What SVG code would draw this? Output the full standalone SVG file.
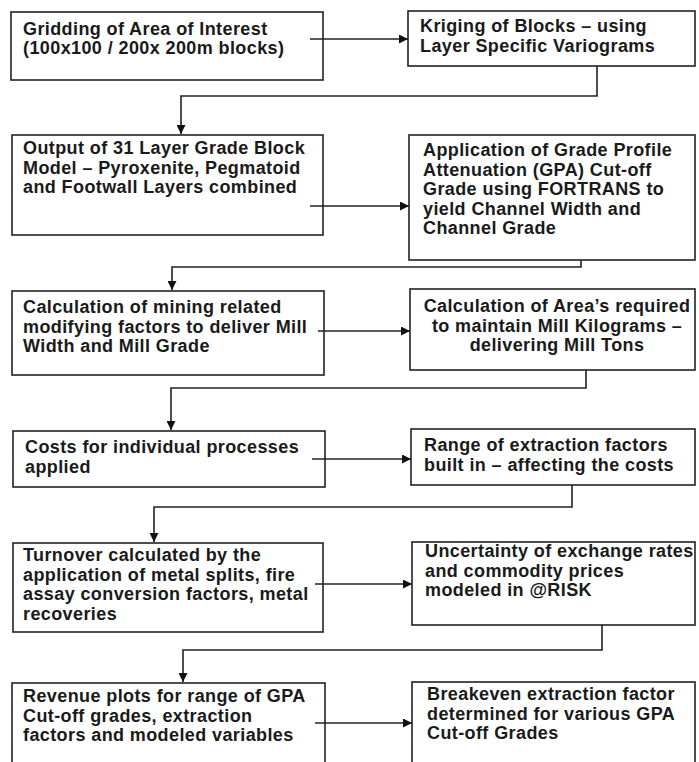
<svg xmlns="http://www.w3.org/2000/svg" width="699" height="762" viewBox="0 0 699 762">
<defs>
<marker id="ah" viewBox="0 0 10 10" refX="10" refY="5" markerWidth="9" markerHeight="9" markerUnits="userSpaceOnUse" orient="auto">
<path d="M0,0 L10,5 L0,10 z" fill="#111"/>
</marker>
<style>
rect{fill:#fff;stroke:#222;stroke-width:1.6}
text{font-family:"Liberation Sans",Arial,sans-serif;font-weight:bold;font-size:18px;fill:#1a1a1a;letter-spacing:0.4px}
.c line,.c polyline{fill:none;stroke:#222;stroke-width:1.6;marker-end:url(#ah)}
</style>
</defs>
<rect x="0" y="0" width="699" height="762" style="fill:#fff;stroke:none"/>
<g id="n1"><rect x="11" y="12" width="312" height="68"/><text x="23" y="35">Gridding of Area of Interest</text><text x="23" y="54">(100x100 / 200x 200m blocks)</text></g>
<g id="n2"><rect x="408" y="11" width="287" height="55"/><text x="420" y="32">Kriging of Blocks – using</text><text x="420" y="52">Layer Specific Variograms</text></g>
<g id="n3"><rect x="12" y="135" width="311" height="100"/><text x="23" y="154">Output of 31 Layer Grade Block</text><text x="23" y="173.5">Model – Pyroxenite, Pegmatoid</text><text x="23" y="193">and Footwall Layers combined</text></g>
<g id="n4"><rect x="409" y="135" width="286" height="125"/><text x="423" y="156">Application of Grade Profile</text><text x="423" y="175.5">Attenuation (GPA) Cut-off</text><text x="423" y="195">Grade using FORTRANS to</text><text x="423" y="214.5">yield Channel Width and</text><text x="423" y="234">Channel Grade</text></g>
<g id="n5"><rect x="12" y="291" width="312" height="84"/><text x="23" y="313">Calculation of mining related</text><text x="23" y="332.5">modifying factors to deliver Mill</text><text x="23" y="352">Width and Mill Grade</text></g>
<g id="n6"><rect x="410" y="289" width="285" height="81"/><text x="557" y="312" text-anchor="middle">Calculation of Area’s required</text><text x="557" y="331.5" text-anchor="middle">to maintain Mill Kilograms –</text><text x="557" y="351" text-anchor="middle">delivering Mill Tons</text></g>
<g id="n7"><rect x="13" y="431" width="312" height="56"/><text x="25" y="453">Costs for individual processes</text><text x="25" y="473">applied</text></g>
<g id="n8"><rect x="411" y="429" width="284" height="56"/><text x="424" y="451">Range of extraction factors</text><text x="424" y="471">built in – affecting the costs</text></g>
<g id="n9"><rect x="13" y="543" width="310" height="89"/><text x="23" y="561">Turnover calculated by the</text><text x="23" y="580.5">application of metal splits, fire</text><text x="23" y="600">assay conversion factors, metal</text><text x="23" y="619.5">recoveries</text></g>
<g id="n10"><rect x="412" y="542" width="283" height="83"/><text x="425" y="557">Uncertainty of exchange rates</text><text x="425" y="576.5">and commodity prices</text><text x="425" y="596">modeled in @RISK</text></g>
<g id="n11"><rect x="12" y="683" width="313" height="100"/><text x="23" y="702">Revenue plots for range of GPA</text><text x="23" y="721.5">Cut-off grades, extraction</text><text x="23" y="741">factors and modeled variables</text></g>
<g id="n12"><rect x="412" y="682" width="283" height="100"/><text x="427" y="700">Breakeven extraction factor</text><text x="427" y="719.5">determined for various GPA</text><text x="427" y="739">Cut-off Grades</text></g>
<g class="c" id="connectors">
<line x1="310" y1="39" x2="408" y2="39"/>
<polyline points="597,66 597,96 181,96 181,134"/>
<line x1="310" y1="206" x2="409" y2="206"/>
<polyline points="581,260 581,267 172,267 172,290"/>
<line x1="318" y1="331" x2="410" y2="331"/>
<polyline points="586,370 586,388 171,388 171,430"/>
<line x1="312" y1="459" x2="411" y2="459"/>
<polyline points="572,485 572,507 154,507 154,542"/>
<line x1="315" y1="584" x2="412" y2="584"/>
<polyline points="602,625 602,650 183,650 183,682"/>
<line x1="315" y1="723" x2="412" y2="723"/>
</g>
</svg>
